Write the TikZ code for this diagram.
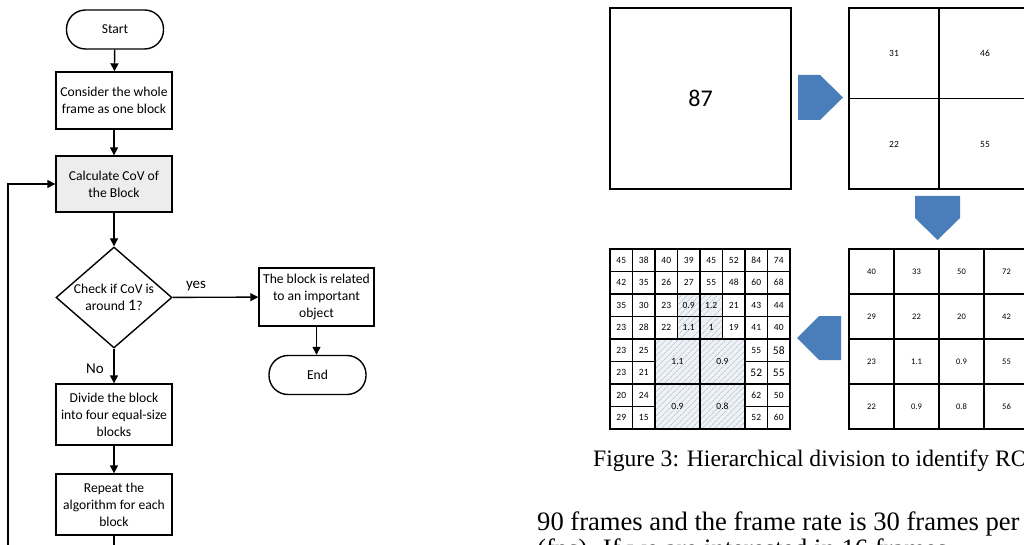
\documentclass[tikz,border=0pt]{standalone}
\usepackage{fontspec}
\setmainfont{Liberation Serif}
\newfontfamily\calfont{Carlito}
\usetikzlibrary{arrows.meta,shapes.geometric,patterns.meta}
\definecolor{arrowblue}{HTML}{4A7EBB}
\definecolor{hatchfill}{HTML}{EEF2F7}
\definecolor{hatchline}{HTML}{A8B4C4}
\begin{document}
\begin{tikzpicture}[x=1pt,y=-1pt,
  flow/.style={draw, line width=1.4pt, font=\calfont\fontsize{13.6}{17}\selectfont, align=center, inner sep=0pt},
  procbox/.style={flow, minimum width=116pt, minimum height=57pt},
  termbox/.style={flow, rounded corners=19pt, minimum width=97pt, minimum height=39pt},
  conn/.style={line width=1.4pt, -{Triangle[length=8pt,width=8pt]}},
  flowlabel/.style={font=\calfont\fontsize{15}{17}\selectfont, inner sep=0pt},
  gridline/.style={line width=1.2pt},
  cellline/.style={line width=1.6pt},
  numsmall/.style={font=\calfont\fontsize{8.5}{9}\selectfont, inner sep=0pt},
  numcell/.style={font=\calfont\fontsize{9.5}{10}\selectfont, inner sep=0pt},
  numbig/.style={font=\calfont\fontsize{11.5}{12}\selectfont, inner sep=0pt},
  blockarrow/.style={fill=arrowblue, draw=none},
  hatched/.style={fill=hatchfill, postaction={pattern={Lines[angle=45,distance=4pt,line width=0.5pt]}, pattern color=hatchline}},
  textline/.style={anchor=base west, inner sep=0pt}
]
\useasboundingbox (0,0) rectangle (1024,545);
\clip (0,0) rectangle (1024,545);
\fill[white] (0,0) rectangle (1024,545);

% ---------------- flowchart ----------------
\node[termbox] (start) at (115,29.5) {Start};
\node[procbox] (consider) at (114,100.5) {Consider the whole\\frame as one block};
\node[procbox, fill=gray!14, minimum height=56pt] (calc) at (114,184) {Calculate CoV of\\the Block};
\node[draw, diamond, line width=1.4pt, minimum width=116pt, minimum height=101pt, inner sep=0pt] (dec) at (114,297.5) {};
\node[flow, draw=none] (dectext) at (dec.center) {Check if CoV is\\around {\fontsize{16}{17}\selectfont 1}?};
\node[procbox, minimum width=115pt, minimum height=58pt] (important) at (316.5,297) {The block is related\\to an important\\object};
\node[termbox] (end) at (317.5,375) {End};
\node[procbox, minimum height=61pt] (divide) at (114,414.5) {Divide the block\\into four equal-size\\blocks};
\node[procbox, minimum height=61pt] (repeat) at (114,504.5) {Repeat the\\algorithm for each\\block};
\coordinate (loopb) at (8,560);

\draw[conn] (start) -- (consider);
\draw[conn] (consider) -- (calc);
\draw[conn] (calc) -- (dec);
\draw[conn] (dec) -- (important);
\draw[conn] (important.south) -- (important.south |- end.north);
\draw[conn] (dec) -- (divide);
\draw[conn] (divide) -- (repeat);
\draw[conn] (repeat.south) |- (loopb) |- (calc.west);

\node[flowlabel] (yes) at (196,286) {yes};
\node[flowlabel] (no) at (95,369) {No};

% ---------------- level 1 ----------------
\draw[gridline] (610,8) rectangle (791,189);
\node[font=\calfont\fontsize{24}{26}\selectfont, inner sep=0pt] (n87) at (700.5,98.5) {87};

% arrow right
\fill[blockarrow] (798,75) -- (820,75) -- (843,97.5) -- (820,120) -- (798,120) -- cycle;

% ---------------- level 2 ----------------
\draw[gridline] (849,8) rectangle (1029,189);
\draw[gridline] (939,8) -- (939,189);
\draw[gridline] (849,98.5) -- (1029,98.5);
\node[numcell] at (894,53) {31};
\node[numcell] at (985,53) {46};
\node[numcell] at (894,144) {22};
\node[numcell] at (985,144) {55};

% arrow down
\fill[blockarrow] (915,196) -- (960,196) -- (960,218) -- (937.5,240) -- (915,218) -- cycle;

% ---------------- level 3 (4x4) ----------------
\foreach \vals [count=\r] in {{40,33,50,72},{29,22,20,42},{23,1.1,0.9,55},{22,0.9,0.8,56}} {
  \foreach \v [count=\c] in \vals {
    \draw[gridline] ({849+(\c-1)*45},{249+(\r-1)*45}) rectangle ++(45,45);
    \node[numsmall] at ({849+(\c-0.5)*45},{249+(\r-0.5)*45}) {\v};
  }
}

% arrow left
\fill[blockarrow] (841,316) -- (819,316) -- (797,338) -- (819,360) -- (841,360) -- cycle;

% ---------------- level 4 (8x8) ----------------
\fill[hatched] (677.5,294) rectangle (722.5,339);
\fill[hatched] (655,339) rectangle (745,429);

\foreach \vals [count=\r] in {{45,38,40,39,45,52,84,74},{42,35,26,27,55,48,60,68},{35,30,23,0.9,1.2,21,43,44},{23,28,22,1.1,1,19,41,40}} {
  \foreach \v [count=\c] in \vals {
    \draw[cellline] ({610+(\c-1)*22.5},{249+(\r-1)*22.5}) rectangle ++(22.5,22.5);
    \node[numcell] at ({610+(\c-0.5)*22.5},{249+(\r-0.5)*22.5}) {\v};
  }
}
\foreach \r in {5,...,8} {
  \foreach \c in {1,2,7,8} {
    \draw[cellline] ({610+(\c-1)*22.5},{249+(\r-1)*22.5}) rectangle ++(22.5,22.5);
  }
}
\foreach \x/\y/\v in {621.25/350.25/23, 643.75/350.25/25, 756.25/350.25/55,
                      621.25/372.75/23, 643.75/372.75/21,
                      621.25/395.25/20, 643.75/395.25/24, 756.25/395.25/62, 778.75/395.25/50,
                      621.25/417.75/29, 643.75/417.75/15, 756.25/417.75/52, 778.75/417.75/60} {
  \node[numcell] at (\x,\y) {\v};
}
\foreach \x/\y/\v in {778.75/350.25/58, 756.25/372.75/52, 778.75/372.75/55} {
  \node[numbig] at (\x,\y) {\v};
}
\foreach \x/\y/\v in {655/339/1.1, 700/339/0.9, 655/384/0.9, 700/384/0.8} {
  \draw[cellline] (\x,\y) rectangle ++(45,45);
  \node[numcell] at ({\x+22.5},{\y+22.5}) {\v};
}

% ---------------- caption and body text ----------------
\node[textline, font=\fontsize{23.6}{27}\selectfont] (caption) at (593,466) {Figure 3: Hierarchical division to identify ROIs};
\node[textline, font=\fontsize{26.6}{28}\selectfont] (body1) at (537,530) {90 frames and the frame rate is 30 frames per second};
\node[textline, font=\fontsize{26.6}{28}\selectfont] (body2) at (537,557) {(fps). If we are interested in 16 frames};
\end{tikzpicture}
\end{document}
